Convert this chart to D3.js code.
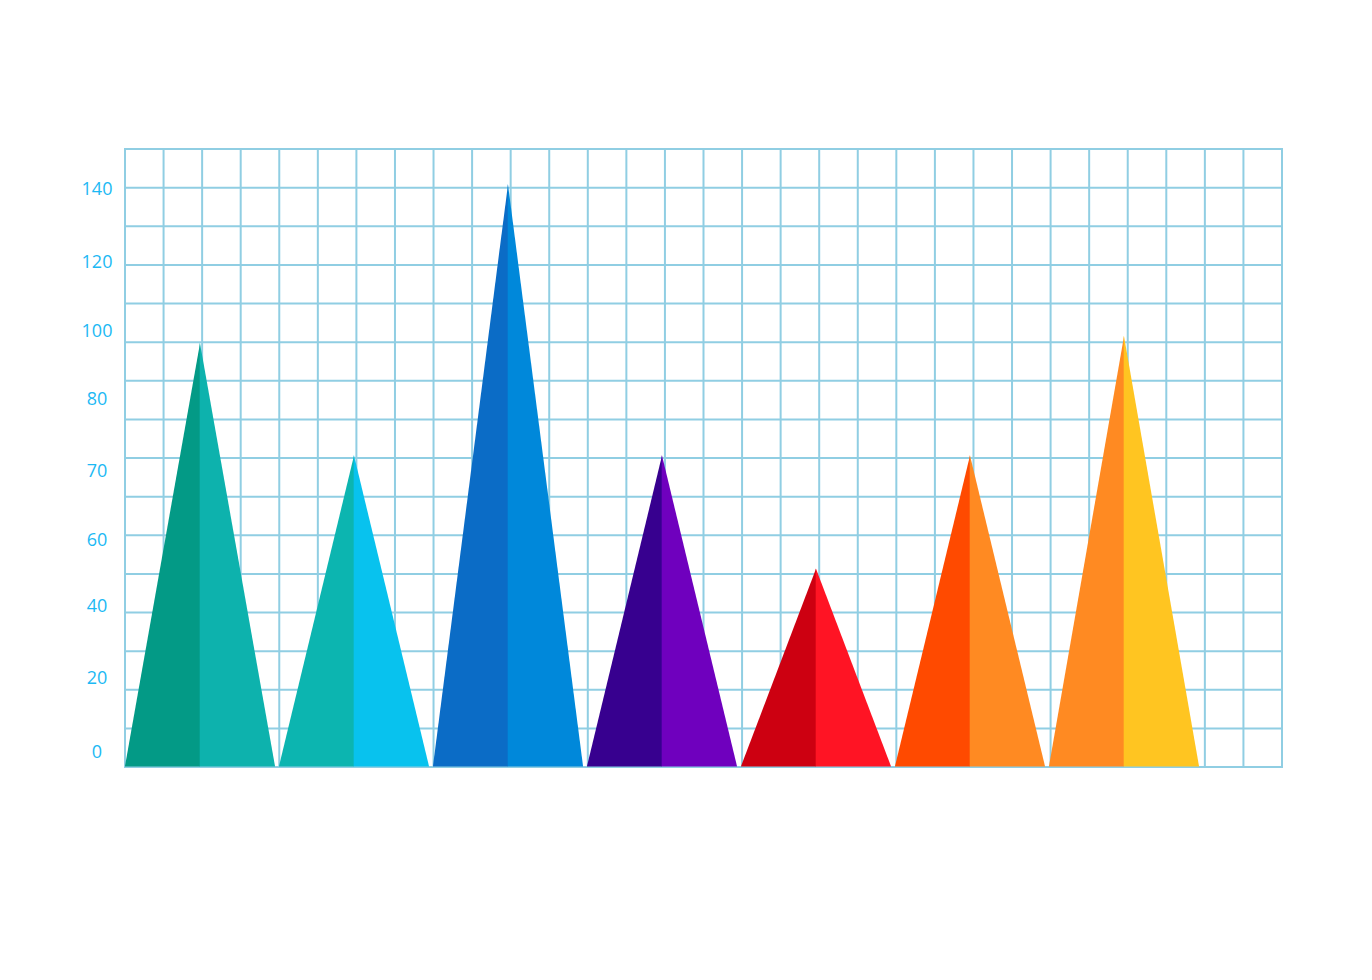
<!DOCTYPE html>
<html>
<head>
<meta charset="utf-8">
<script src="https://cdn.jsdelivr.net/npm/d3@7"></script>
<style>
  html, body { margin: 0; padding: 0; background: #ffffff; }
  svg { display: block; }
</style>
</head>
<body>
<svg id="chart" width="1372" height="980"></svg>
<script>
// ---- data ----
const categories = ["A", "B", "C", "D", "E", "F", "G"];
const values = [96, 72, 141, 72, 51, 72, 98];
const tickLabels = [0, 20, 40, 60, 70, 80, 100, 120, 140];
const leftColors  = ["#039A86", "#0CB5B0", "#0B6CC6", "#37008F", "#CD0011", "#FF4A00", "#FF8A22"];
const rightColors = ["#0DB2AD", "#08C2EE", "#0088DA", "#6F00BE", "#FF1424", "#FF8A22", "#FFC521"];

// ---- layout ----
const W = 1372, H = 980;
const plot = { left: 125, right: 1282, top: 149, bottom: 767 };
const gridCols = 30, gridRows = 16;
// tick label positions (decorative, non-uniform axis as in the original)
const tickPos = [751, 677, 605, 539, 470, 398, 329.5, 260.5, 188];

const svg = d3.select("#chart");

// grid
const gx = d3.scaleLinear().domain([0, gridCols]).range([plot.left, plot.right]);
const gy = d3.scaleLinear().domain([0, gridRows]).range([plot.top, plot.bottom]);
const grid = svg.append("g").attr("class", "grid")
  .attr("stroke", "#90CEE3").attr("stroke-width", 2).attr("fill", "none");
grid.selectAll("line.v").data(d3.range(gridCols + 1)).join("line")
  .attr("class", "v")
  .attr("x1", d => gx(d)).attr("x2", d => gx(d))
  .attr("y1", plot.top - 1).attr("y2", plot.bottom + 1);
grid.selectAll("line.h").data(d3.range(gridRows + 1)).join("line")
  .attr("class", "h")
  .attr("y1", d => gy(d)).attr("y2", d => gy(d))
  .attr("x1", plot.left - 1).attr("x2", plot.right + 1);

// scales
const x = d3.scaleBand().domain(categories).range([123, 1201])
  .paddingInner(0.025).paddingOuter(0.0125);
const y = d3.scaleLinear().domain(tickLabels).range(tickPos);

// triangles
const data = categories.map((c, i) => ({ c, v: values[i], l: leftColors[i], r: rightColors[i] }));
const tri = svg.append("g").attr("class", "triangles")
  .selectAll("g").data(data).join("g");
const base = plot.bottom - 0.5;
tri.append("path")
  .attr("fill", d => d.l)
  .attr("d", d => {
    const x0 = x(d.c), xm = x(d.c) + x.bandwidth() / 2;
    return `M${x0},${base}L${xm},${y(d.v)}L${xm},${base}Z`;
  });
tri.append("path")
  .attr("fill", d => d.r)
  .attr("d", d => {
    const x1 = x(d.c) + x.bandwidth(), xm = x(d.c) + x.bandwidth() / 2;
    return `M${xm - 0.3},${base}L${xm - 0.3},${y(d.v)}L${xm},${y(d.v)}L${x1},${base}Z`;
  });

// tick labels
svg.append("g").attr("class", "ticks")
  .selectAll("text").data(tickLabels).join("text")
  .attr("x", 97)
  .attr("y", d => y(d))
  .attr("text-anchor", "middle")
  .attr("dominant-baseline", "central")
  .attr("font-family", "'Open Sans', 'Noto Sans', sans-serif")
  .attr("font-size", 18)
  .attr("fill", "#1CB9F4")
  .text(d => d);
</script>
</body>
</html>
